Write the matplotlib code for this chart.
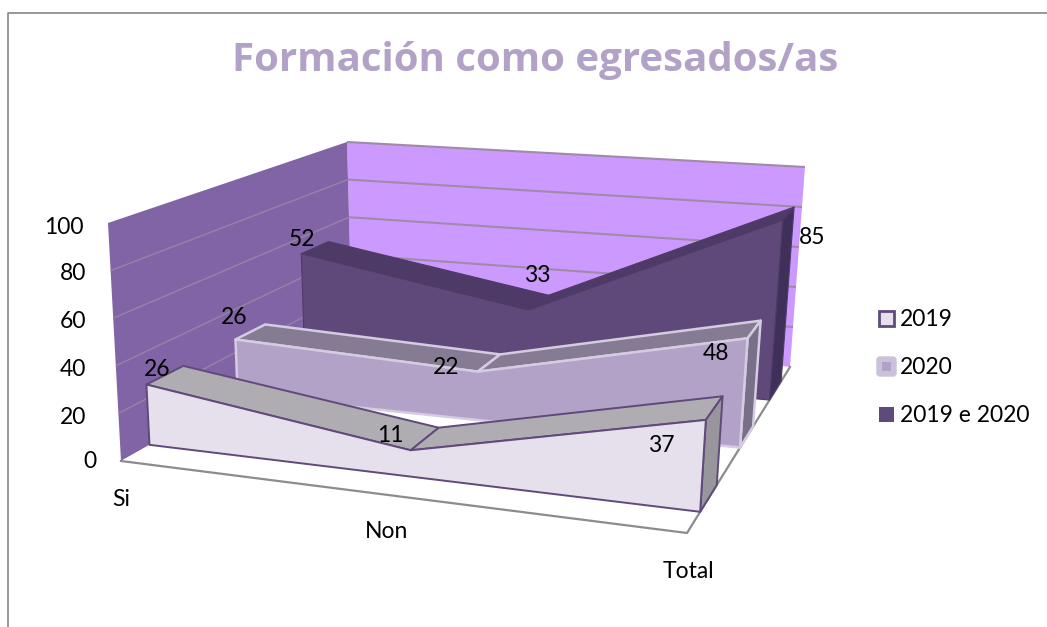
"""
Formación como egresados/as - 3D area chart drawn on a flat axes with a small projection
"""

import numpy as np
import matplotlib
matplotlib.use('Agg')
import matplotlib.pyplot as plt
from matplotlib.patches import Polygon, Rectangle, FancyBboxPatch

plt.rcParams['font.family'] = ['Lato', 'DejaVu Sans']

categories = ['Si', 'Non', 'Total']
series_names = ['2019', '2020', '2019 e 2020']
values_2019 = [26, 11, 37]
values_2020 = [26, 22, 48]
values_both = [52, 33, 85]
z_ticks = [0, 20, 40, 60, 80, 100]

# where the categories sit along the front edge, the middle one is pulled a bit right
category_u = [0, 0.512, 1]

# depth slot of each series on the floor (0 = front, 1 = back wall)
depth_2019 = (0.096, 0.228)
depth_2020 = (0.435, 0.565)
depth_both = (0.745, 0.885)

# box corners in pixels: front-left, front-right, back-right, back-left
floor_px = [(121, 461), (687, 533), (790, 367), (352, 330)]
ceil_px = [(108, 223), (702, 278), (805, 167), (347, 142)]


def homography(px):
    """Map the unit square (u, d) on to four pixel corners."""
    uv = [(0, 0), (1, 0), (1, 1), (0, 1)]
    A, b = [], []
    for (u, v), (x, y) in zip(uv, px):
        A.append([u, v, 1, 0, 0, 0, -u * x, -v * x])
        A.append([0, 0, 0, u, v, 1, -u * y, -v * y])
        b += [x, y]
    h = np.linalg.solve(np.array(A, float), np.array(b, float))
    return np.append(h, 1).reshape(3, 3)


H_floor = homography(floor_px)
H_ceil = homography(ceil_px)


def project(u, d, z):
    """u along categories, d in depth, z the value on the 0-100 axis."""
    p = np.array([u, d, 1.0])
    a = H_floor @ p
    b = H_ceil @ p
    a = a[:2] / a[2]
    b = b[:2] / b[2]
    return tuple(a + (b - a) * z / 100)


def draw_series(ax, values, depth, front, top, side, edge, lw):
    d0, d1 = depth
    us = category_u
    # front face
    pts = [project(us[0], d0, 0)]
    pts += [project(u, d0, v) for u, v in zip(us, values)]
    pts.append(project(us[-1], d0, 0))
    # top strips, one per segment
    for i in range(len(values) - 1):
        strip = [project(us[i], d0, values[i]), project(us[i + 1], d0, values[i + 1]),
                 project(us[i + 1], d1, values[i + 1]), project(us[i], d1, values[i])]
        ax.add_patch(Polygon(strip, closed=True, fc=top, ec=edge, lw=lw, joinstyle='round', zorder=3))
    # right end
    end = [project(1, d0, 0), project(1, d0, values[-1]), project(1, d1, values[-1]), project(1, d1, 0)]
    ax.add_patch(Polygon(end, closed=True, fc=side, ec=edge, lw=lw, joinstyle='round', zorder=3))
    ax.add_patch(Polygon(pts, closed=True, fc=front, ec=edge, lw=lw, joinstyle='round', zorder=3))


fig = plt.figure(figsize=(10.47, 6.27), dpi=100)
fig.patch.set_facecolor('white')
ax = fig.add_axes([0, 0, 1, 1])
ax.set_xlim(0, 1047)
ax.set_ylim(627, 0)
ax.axis('off')

# outer frame, only top and left show in the crop
ax.plot([7.5, 7.5, 1047], [627, 13, 13], color='#868686', lw=1.2)

ax.text(535, 60, 'Formación como egresados/as', ha='center', va='center',
        fontsize=29, fontweight='bold', color='#B3A2C7', family=['Open Sans', 'DejaVu Sans'])

# walls and floor
left_wall = [project(0, 0, 0), project(0, 0, 100), project(0, 1, 100), project(0, 1, 0)]
back_wall = [project(0, 1, 0), project(0, 1, 100), project(1, 1, 100), project(1, 1, 0)]
floor = [project(0, 0, 0), project(1, 0, 0), project(1, 1, 0), project(0, 1, 0)]
ax.add_patch(Polygon(back_wall, closed=True, fc='#CC99FF', ec='none'))
ax.add_patch(Polygon(left_wall, closed=True, fc='#8064A5', ec='none'))
ax.add_patch(Polygon(floor, closed=True, fc='white', ec='none'))

for z in z_ticks[1:]:
    p0, p1, p2 = project(0, 0, z), project(0, 1, z), project(1, 1, z)
    if z < 100:
        ax.plot([p0[0], p1[0]], [p0[1], p1[1]], color='#9580A8', lw=1.1, solid_capstyle='butt', zorder=2)
    ax.plot([p1[0], p2[0]], [p1[1], p2[1]], color='#A08AA8', lw=1.5, solid_capstyle='butt', zorder=2)

edge_pts = [project(0, 0, 0), project(1, 0, 0), project(1, 1, 0)]
ax.plot([p[0] for p in edge_pts], [p[1] for p in edge_pts], color='#8C8C8C', lw=1.6, zorder=2)

# back to front
draw_series(ax, values_both, depth_both, '#5F497A', '#4E3A66', '#3F3059', '#4E3A66', 0.8)
draw_series(ax, values_2020, depth_2020, '#B3A2C7', '#857C93', '#787088', '#D5CCE2', 1.8)
draw_series(ax, values_2019, depth_2019, '#E6E0EC', '#AFACB2', '#98959D', '#604A7B', 1.4)

# data labels
label_pos = [[(157, 369), (390, 436), (661, 445)],
             [(234, 318), (446, 367), (716, 353)],
             [(302, 239), (537, 275), (812, 238)]]
for vals, positions in zip([values_2019, values_2020, values_both], label_pos):
    for v, (x, y) in zip(vals, positions):
        ax.text(x, y, str(v), ha='center', va='center', fontsize=16.5, color='black', zorder=5)

# value axis labels
tick_pos = [(90, 462), (73, 417), (73, 369), (73, 322), (73, 274), (64, 227)]
for z, (x, y) in zip(z_ticks, tick_pos):
    ax.text(x, y, str(z), ha='center', va='center', fontsize=16.5, color='black')

# category labels
cat_pos = [(121, 499), (387, 532), (688, 571)]
for name, (x, y) in zip(categories, cat_pos):
    ax.text(x, y, name, ha='center', va='center', fontsize=16.5, color='black')

# legend
ax.add_patch(Rectangle((878.5, 310.5), 15, 15, fc='#E6E0EC', ec='#604A7B', lw=2))
ax.add_patch(FancyBboxPatch((877, 357), 19, 19, boxstyle='round,pad=0,rounding_size=3',
                            fc='#CCC1DA', ec='#CCC1DA', lw=1))
ax.add_patch(Rectangle((882, 362), 9, 9, fc='#B3A2C7', ec='none'))
ax.add_patch(Rectangle((879, 407), 15, 15, fc='#604A7B', ec='none'))
for name, y in zip(series_names, [319, 367, 416]):
    ax.text(900, y, name, ha='left', va='center', fontsize=16.5, color='black')

fig.savefig('out.png', dpi=100, facecolor='white')
plt.close(fig)
